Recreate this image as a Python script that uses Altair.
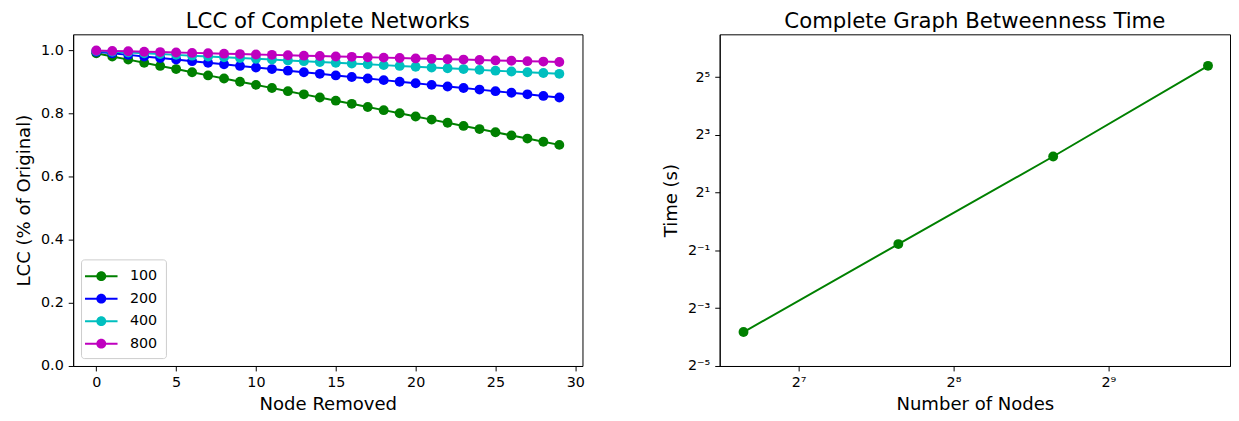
import altair as alt
import pandas as pd

FONT = "DejaVu Sans"

# ---------------- data: left panel ----------------
node_removed = [0, 1, 2, 3, 4, 5, 6, 7, 8, 9, 10, 11, 12, 13, 14,
                15, 16, 17, 18, 19, 20, 21, 22, 23, 24, 25, 26, 27, 28, 29]
lcc_100 = [0.99, 0.98, 0.97, 0.96, 0.95, 0.94, 0.93, 0.92, 0.91, 0.90,
           0.89, 0.88, 0.87, 0.86, 0.85, 0.84, 0.83, 0.82, 0.81, 0.80,
           0.79, 0.78, 0.77, 0.76, 0.75, 0.74, 0.73, 0.72, 0.71, 0.70]
lcc_200 = [0.995, 0.99, 0.985, 0.98, 0.975, 0.97, 0.965, 0.96, 0.955, 0.95,
           0.945, 0.94, 0.935, 0.93, 0.925, 0.92, 0.915, 0.91, 0.905, 0.90,
           0.895, 0.89, 0.885, 0.88, 0.875, 0.87, 0.865, 0.86, 0.855, 0.85]
lcc_400 = [0.9975, 0.995, 0.9925, 0.99, 0.9875, 0.985, 0.9825, 0.98, 0.9775, 0.975,
           0.9725, 0.97, 0.9675, 0.965, 0.9625, 0.96, 0.9575, 0.955, 0.9525, 0.95,
           0.9475, 0.945, 0.9425, 0.94, 0.9375, 0.935, 0.9325, 0.93, 0.9275, 0.925]
lcc_800 = [0.99875, 0.9975, 0.99625, 0.995, 0.99375, 0.9925, 0.99125, 0.99, 0.98875, 0.9875,
           0.98625, 0.985, 0.98375, 0.9825, 0.98125, 0.98, 0.97875, 0.9775, 0.97625, 0.975,
           0.97375, 0.9725, 0.97125, 0.97, 0.96875, 0.9675, 0.96625, 0.965, 0.96375, 0.9625]
series_names = ["100", "200", "400", "800"]
series_colors = ["#008000", "#0000ff", "#00bfbf", "#bf00bf"]
x_ticks_left = [0, 5, 10, 15, 20, 25, 30]
y_ticks_left = [0.0, 0.2, 0.4, 0.6, 0.8, 1.0]

# ---------------- data: right panel ----------------
num_nodes = [100, 200, 400, 800]
run_time = [0.0706, 0.582, 4.76, 41.9]
x_ticks_right = [128, 256, 512]
x_tick_labels_right = ["2⁷", "2⁸", "2⁹"]
y_ticks_right = [0.03125, 0.125, 0.5, 2, 8, 32]
y_tick_labels_right = ["2⁻⁵", "2⁻³", "2⁻¹", "2¹", "2³", "2⁵"]

rows = []
for name, vals in zip(series_names, [lcc_100, lcc_200, lcc_400, lcc_800]):
    for xv, yv in zip(node_removed, vals):
        rows.append({"removed": xv, "lcc": yv, "n": name})
df_lcc = pd.DataFrame(rows)
df_time = pd.DataFrame({"nodes": num_nodes, "time": run_time})


def label_expr(values, labels):
    expr = "''"
    for v, l in zip(reversed(values), reversed(labels)):
        expr = f"abs(datum.value - {v}) < {v} * 1e-6 ? '{l}' : ({expr})"
    return expr


# legend symbol: thin bar + disc (fill based)
legend_path = ("M-1.44,-0.11H2.22V0.11H-1.44Z"
               "M0.946,0A0.556,0.556,0,1,1,-0.166,0A0.556,0.556,0,1,1,0.946,0Z")

color_scale = alt.Scale(domain=series_names, range=series_colors)
x_left = alt.X("removed:Q",
               scale=alt.Scale(domain=[-1.45, 30.45], nice=False, zero=False),
               axis=alt.Axis(values=x_ticks_left, title="Node Removed", format="d"))
y_left = alt.Y("lcc:Q",
               scale=alt.Scale(domain=[0, 1.05], nice=False, zero=False),
               axis=alt.Axis(values=y_ticks_left, title="LCC (% of Original)", format=".1f"))
color_left = alt.Color(
    "n:N", scale=color_scale, sort=series_names,
    legend=alt.Legend(title=None, orient="bottom-left", offset=8, padding=8,
                      symbolType=legend_path, symbolSize=324, symbolStrokeWidth=0,
                      symbolOpacity=1, labelFontSize=14.5, labelOffset=23.5,
                      labelFont=FONT, labelColor="black", rowPadding=6.8,
                      strokeColor="#cccccc", fillColor="white", cornerRadius=3))

layers = []
for name in series_names:
    base = alt.Chart(df_lcc).transform_filter(alt.datum.n == name)
    layers.append(base.mark_point(filled=True, size=100, opacity=1)
                  .encode(x=x_left, y=y_left, color=color_left))
    layers.append(base.mark_line(strokeWidth=2)
                  .encode(x=x_left, y=y_left, color=color_left))

left = alt.layer(*layers).properties(
    width=516, height=336, title="LCC of Complete Networks")

x_right = alt.X("nodes:Q",
                scale=alt.Scale(type="log", base=2, domain=[2 ** 6.49, 2 ** 9.786],
                                nice=False, zero=False),
                axis=alt.Axis(values=x_ticks_right, title="Number of Nodes",
                              labelExpr=label_expr(x_ticks_right, x_tick_labels_right)))
y_right = alt.Y("time:Q",
                scale=alt.Scale(type="log", base=2, domain=[2 ** -5, 2 ** 6.48],
                                nice=False, zero=False),
                axis=alt.Axis(values=y_ticks_right, title="Time (s)",
                              labelExpr=label_expr(y_ticks_right, y_tick_labels_right)))
rbase = alt.Chart(df_time)
right = alt.layer(
    rbase.mark_line(strokeWidth=2, color="#008000").encode(x=x_right, y=y_right),
    rbase.mark_point(filled=True, size=100, opacity=1, color="#008000").encode(x=x_right, y=y_right),
).properties(width=517, height=336, title="Complete Graph Betweenness Time")

chart = (
    alt.hconcat(left, right, spacing=76)
    .properties(padding={"left": 6, "top": 0, "right": 0, "bottom": 0})
    .configure(font=FONT)
    .configure_view(stroke="black", strokeWidth=1)
    .configure_axis(grid=False, domainColor="black", tickColor="black",
                    labelColor="black", titleColor="black", labelFontSize=14.5,
                    titleFontSize=18.3, titleFontWeight="normal", tickSize=5,
                    labelPadding=5, titlePadding=7, labelFont=FONT, titleFont=FONT,
                    domainWidth=1, tickWidth=1)
    .configure_title(fontSize=21.5, fontWeight="normal", font=FONT, color="black",
                     baseline="alphabetic", offset=1.5, anchor="middle")
)

chart.save("out.html", embed_options={"renderer": "svg", "actions": False})
